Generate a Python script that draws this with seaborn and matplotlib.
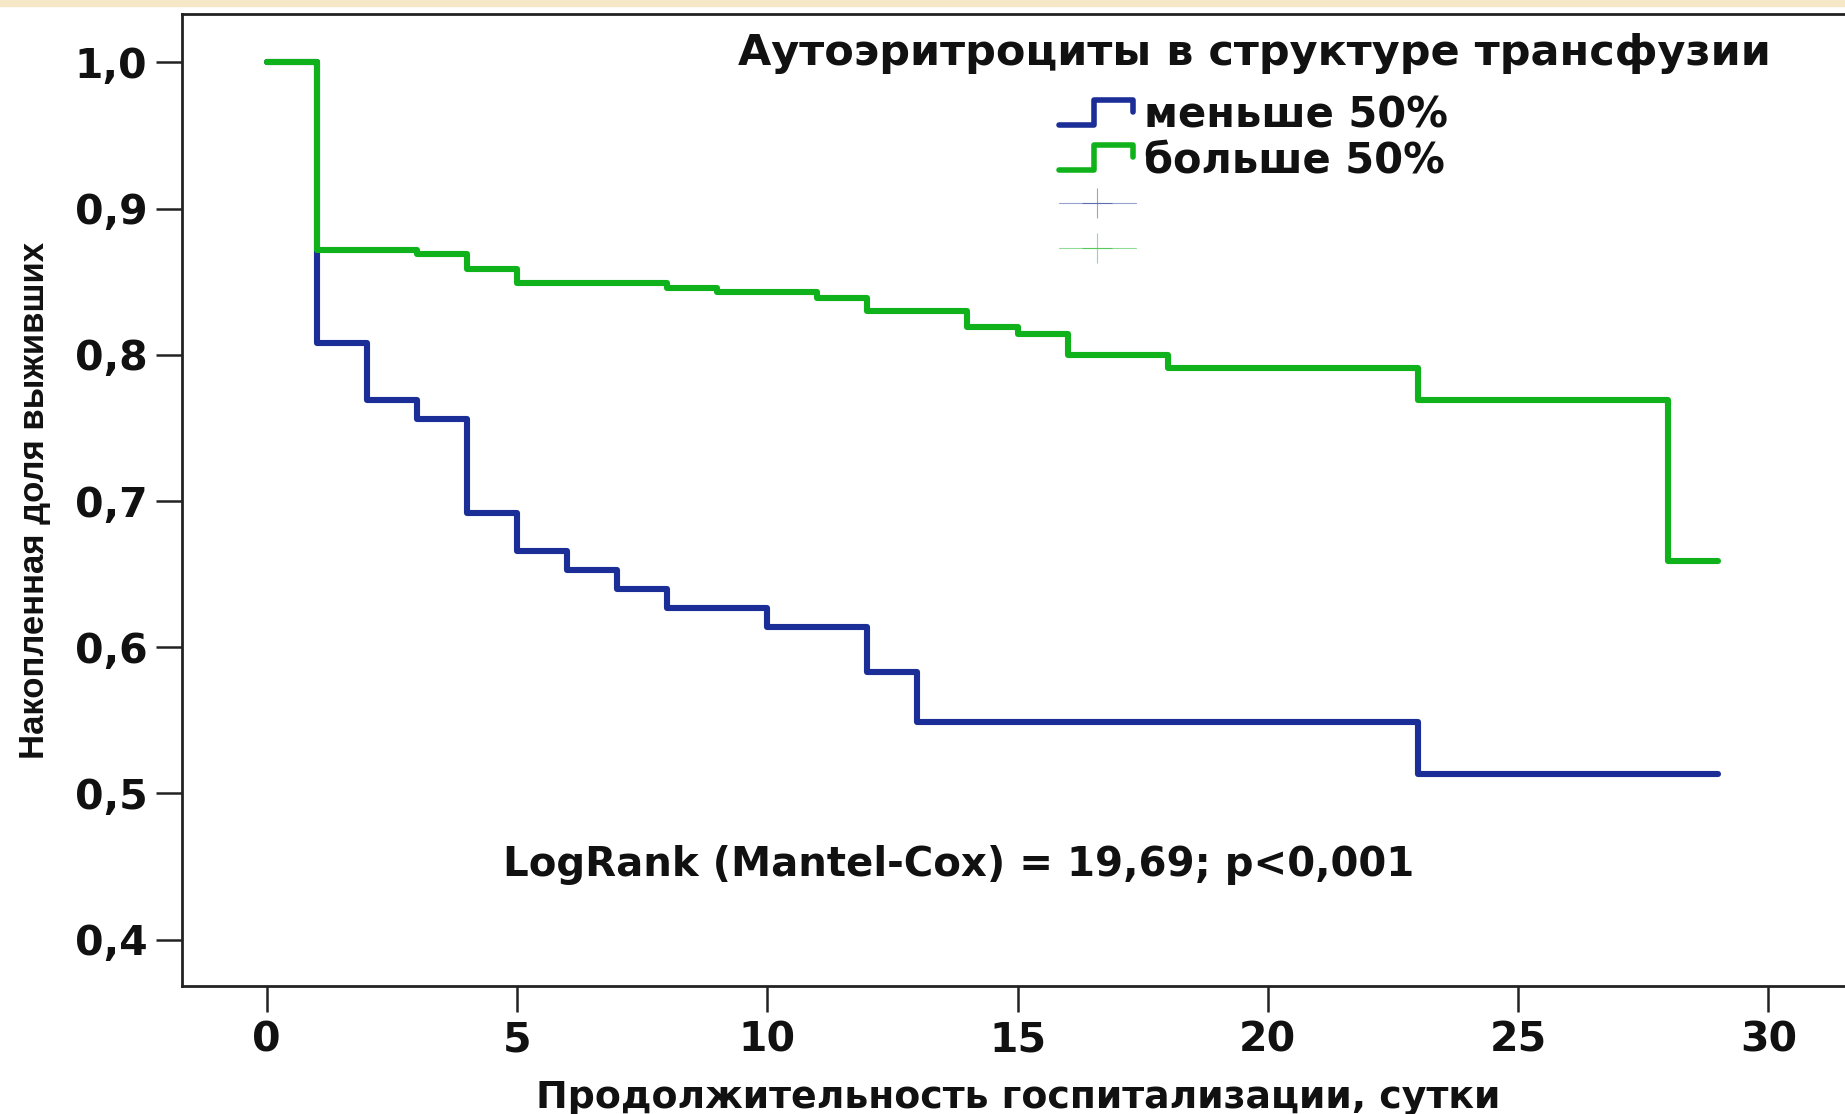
import matplotlib

matplotlib.use("Agg")
import matplotlib.pyplot as plt
import pandas as pd
import seaborn as sns
from matplotlib.legend_handler import HandlerBase
from matplotlib.lines import Line2D
from matplotlib.patches import Rectangle

# Kaplan-Meier steps
GROUPS = ["меньше 50%", "больше 50%"]
LESS_TIME = [0, 1, 2, 3, 4, 5, 6, 7, 8, 10, 12, 13, 23, 29]
LESS_SURV = [1.0, 0.808, 0.769, 0.756, 0.692, 0.666, 0.653, 0.640, 0.627, 0.614, 0.583, 0.549, 0.513, 0.513]
MORE_TIME = [0, 1, 3, 4, 5, 8, 9, 11, 12, 14, 15, 16, 18, 23, 28, 29]
MORE_SURV = [1.0, 0.872, 0.869, 0.859, 0.849, 0.846, 0.843, 0.839, 0.830, 0.819, 0.814, 0.800, 0.791, 0.769, 0.659, 0.659]

X_TICKS = [0, 5, 10, 15, 20, 25, 30]
Y_TICKS = [0.4, 0.5, 0.6, 0.7, 0.8, 0.9, 1.0]
Y_TICK_LABELS = ["0,4", "0,5", "0,6", "0,7", "0,8", "0,9", "1,0"]

TITLE = "Аутоэритроциты в структуре трансфузии"
X_LABEL = "Продолжительность госпитализации, сутки"
Y_LABEL = "Накопленная доля выживших"
STAT_TEXT = "LogRank (Mantel-Cox) = 19,69; p<0,001"

PALETTE = {"меньше 50%": "#1b2d97", "больше 50%": "#10b21b"}


class StepHandler(HandlerBase):
    def create_artists(self, legend, orig_handle, xdescent, ydescent, width, height, fontsize, trans):
        x0, y0 = -xdescent, -ydescent
        xs = [x0, x0 + 0.45 * width, x0 + 0.45 * width, x0 + 0.97 * width, x0 + 0.97 * width]
        ys = [y0 + 0.1 * height, y0 + 0.1 * height, y0 + 0.95 * height, y0 + 0.95 * height, y0 + 0.55 * height]
        line = Line2D(xs, ys, color=orig_handle.get_color(), lw=orig_handle.get_linewidth(), transform=trans)
        return [line]


def build_frame() -> pd.DataFrame:
    less = pd.DataFrame({"time": LESS_TIME, "surv": LESS_SURV, "group": GROUPS[0]})
    more = pd.DataFrame({"time": MORE_TIME, "surv": MORE_SURV, "group": GROUPS[1]})
    return pd.concat([less, more], ignore_index=True)


def main() -> None:
    sns.set_theme(style="ticks")
    plt.rcParams["font.family"] = ["DejaVu Sans"]
    plt.rcParams["font.weight"] = "bold"
    plt.rcParams["text.color"] = "#111111"
    plt.rcParams["axes.labelcolor"] = "#111111"
    plt.rcParams["xtick.color"] = "#111111"
    plt.rcParams["ytick.color"] = "#111111"

    frame = build_frame()

    fig = plt.figure(figsize=(18.45, 11.14), dpi=100)
    fig.patches.append(Rectangle((0, 1 - 6 / 1114), 1, 6 / 1114, transform=fig.transFigure,
                                 color="#f6e7c6", zorder=0))
    ax = fig.add_axes([182 / 1845, 1 - 986 / 1114, 1 - 182 / 1845, 972 / 1114])

    sns.lineplot(data=frame, x="time", y="surv", hue="group", hue_order=GROUPS, palette=PALETTE,
                 estimator=None, drawstyle="steps-post", lw=4.4, legend=False, ax=ax)

    ax.set_xlim(-1.69, 31.53)
    ax.set_ylim(0.3683, 1.0331)
    ax.set_xticks(X_TICKS)
    ax.set_yticks(Y_TICKS)
    ax.set_yticklabels(Y_TICK_LABELS)
    ax.tick_params(axis="both", length=19, width=1.8, color="#222222", labelsize=29.5, pad=6)
    for spine in ["left", "top", "bottom"]:
        ax.spines[spine].set_linewidth(2.0)
        ax.spines[spine].set_color("#222222")
    ax.spines["right"].set_visible(False)

    ax.set_xlabel(X_LABEL, fontsize=27.3, fontweight="bold")
    ax.xaxis.set_label_coords(0.5027, -0.097)
    ax.set_ylabel(Y_LABEL, fontsize=25, fontweight="bold", family=["Liberation Sans"])
    ax.yaxis.set_label_coords(-0.079, 0.5)

    ax.text(19.74, 1.0064, TITLE, ha="center", va="center", fontsize=31, fontweight="bold")
    ax.text(13.83, 0.451, STAT_TEXT, ha="center", va="center", fontsize=29, fontweight="bold")

    step_handles = [Line2D([], [], color=PALETTE[g], lw=4.0) for g in GROUPS]
    censor_handles = [Line2D([], [], color=PALETTE[g], lw=0.8, alpha=0.45, marker="+", markersize=22,
                             markeredgewidth=0.8) for g in GROUPS]
    handler_map = {h: StepHandler() for h in step_handles}
    ax.legend(step_handles + censor_handles, GROUPS + [" ", " "], handler_map=handler_map,
              loc="upper left", bbox_to_anchor=((1059 - 182) / 1663, 1 - (95 - 14) / 972),
              frameon=False, fontsize=30, handlelength=1.84, handletextpad=0.2, labelspacing=0.07,
              borderpad=0, borderaxespad=0)

    fig.savefig("out.png", dpi=100)
    plt.close(fig)


if __name__ == "__main__":
    main()
